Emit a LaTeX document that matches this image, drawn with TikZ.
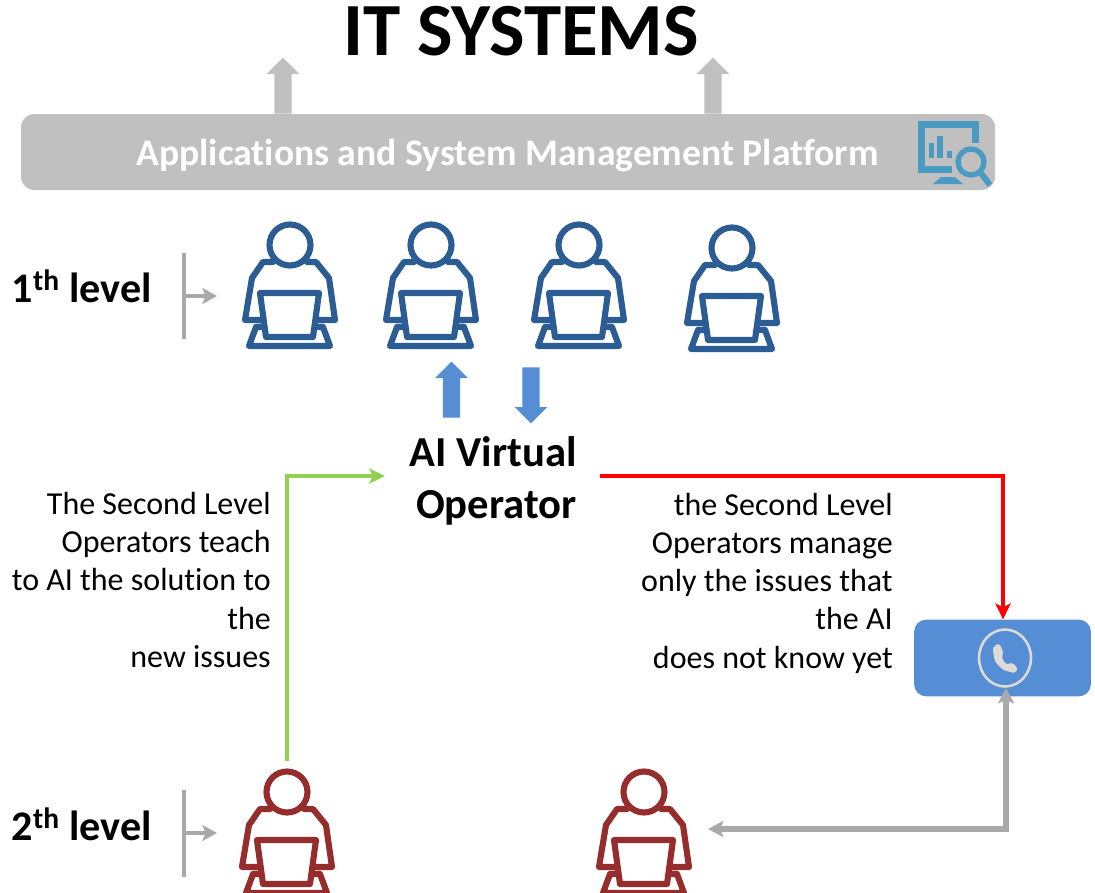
\documentclass[tikz,border=0pt]{standalone}
\usepackage{fontspec}
\setmainfont[Ligatures=NoCommon]{Carlito}
\usetikzlibrary{arrows.meta,shapes.arrows}
\definecolor{opblue}{HTML}{2B5C94}
\definecolor{opred}{HTML}{962D2D}
\definecolor{platgray}{HTML}{C0C0C0}
\definecolor{linegray}{HTML}{A9A9A9}
\definecolor{arrblue}{HTML}{558ED5}
\definecolor{iconblue}{HTML}{4A9AC4}
\definecolor{phoneic}{HTML}{DDDBD6}
\definecolor{teachgreen}{HTML}{92D050}
\newcommand{\fs}[1]{\fontsize{#1}{#1}\selectfont}
\tikzset{
  x=0.75pt,y=-0.75pt,
  operator/.pic={
    \draw[pic actions,line width=4.6pt,line join=round,line cap=round,fill=none]
      (0,0) circle[radius=20.5]
      (-17,17) -- (-27,17) -- (-38,33) -- (-45,75) -- (-29,75)
      (17,17) -- (26,17) -- (39,33) -- (45,75) -- (29,75)
      (-30,48) -- (29,48) -- (23,92) -- (-24,92) -- cycle
      (-28,82) -- (-34,82) -- (-41,101) -- (40,101) -- (33,82) -- (28,82);
  },
  blockup/.style={single arrow,draw=none,minimum height=42pt,inner sep=6.2pt,
    single arrow head extend=5.8pt,single arrow tip angle=90,shape border rotate=90},
  blockdown/.style={blockup,shape border rotate=270},
  thinarrow/.style={line width=3.6pt,-{Stealth[length=12pt,width=11.5pt,inset=3pt]}},
  grayarrow/.style={linegray,line width=3.9pt,{Stealth[length=11.5pt,width=12pt,inset=2.5pt]}-{Stealth[length=11.5pt,width=12pt,inset=2.5pt]}},
  bodytext/.style={font=\fontsize{24}{28.7}\selectfont,align=right,inner sep=0pt,text=black},
  leveltext/.style={font=\fontsize{31.6}{31.6}\selectfont\bfseries,inner sep=0pt,anchor=east},
  bracket/.style={linegray,line width=3.7pt},
  bracketarrow/.style={linegray,line width=3pt,-{Stealth[length=11pt,width=12pt,inset=2.5pt]}},
}
\begin{document}
\begin{tikzpicture}
\useasboundingbox (0,0) rectangle (1095,892);
% title
\node[font=\fs{56.3}\bfseries,inner sep=0pt] (title) at (521,31) {IT SYSTEMS};
% gray up arrows
\node[blockup,fill=platgray] (upa) at (283,90) {};
\node[blockup,fill=platgray] (upb) at (713,90) {};
% platform
\node[draw=none,fill=platgray,rounded corners=10pt,minimum width=730.5pt,minimum height=57pt,inner sep=0pt]
  (plat) at (508,152) {};
\node[font=\fs{28.2}\bfseries,text=white,inner sep=0pt] (plattext) at (507.5,155) {Applications and System Management Platform};
% monitor icon
\begin{scope}[iconblue]
  \draw[line width=4.8pt,line cap=butt] (975.5,143) -- (975.5,124.3) -- (921.3,124.3) -- (921.3,169.5) -- (952,169.5);
  \fill (929,143) rectangle (934,158);
  \fill (937,136) rectangle (943,158);
  \fill (947,151) rectangle (952,158);
  \fill (933,184) -- (941,177) -- (955,177) -- (963,184) -- cycle;
  \draw[line width=4pt] (971,162) circle[radius=13];
  \draw[line width=4.5pt] (980,172) -- (990,185);
\end{scope}
% level 1
\node[leveltext] (l1) at (152,286) {1\textsuperscript{th} level};
\coordinate (b1t) at (184,253); \coordinate (b1b) at (184,339); \coordinate (b1m) at (184,296);
\coordinate (b1e) at (217,296);
\draw[bracket] (b1t) -- (b1b);
\draw[bracketarrow] (b1m) -- (b1e);
% level 1 operators
\pic[opblue] at (290,245) {operator};
\pic[opblue] at (431,245) {operator};
\pic[opblue] at (579,245) {operator};
\pic[opblue] at (732,248) {operator};
% blue arrows
\node[blockup,fill=arrblue] (aup) at (451.5,394) {};
\node[blockdown,fill=arrblue] (adown) at (531,391) {};
% AI
\node[font=\fontsize{32}{38.5}\selectfont\bfseries,align=right,inner sep=0pt,anchor=east] (ai) at (577,481) {AI Virtual\\Operator};
% texts
\node[bodytext,anchor=east] (tl) at (271,580) {The Second Level\\Operators teach\\to AI the solution to\\the\\new issues};
\node[bodytext,anchor=east] (tr) at (893,583) {the Second Level\\Operators manage\\only the issues that\\the AI\\does not know yet};
% phone
\node[fill=arrblue,rounded corners=9pt,minimum width=132.5pt,minimum height=57.5pt,inner sep=0pt] (phone) at (1002.5,658) {};
\draw[phoneic,line width=1.9pt] (1005,658) circle[x radius=26,y radius=28.5];
\fill[phoneic,rounded corners=2pt] (992.7,650) -- (995,661.7) -- (1003,670) -- (1015,673.3) -- (1018,668.3) -- (1011.7,662.3) -- (1006.7,665) -- (1001.7,658.3) -- (1003.3,651.7) -- (999.3,643.3) -- (994,646) -- cycle;
% level 2
\node[leveltext] (l2) at (152,824) {2\textsuperscript{th} level};
\coordinate (b2t) at (184,790); \coordinate (b2b) at (184,877); \coordinate (b2m) at (184,833);
\coordinate (b2e) at (217,833);
\draw[bracket] (b2t) -- (b2b);
\draw[bracketarrow] (b2m) -- (b2e);
% level 2 operators
\pic[opred] at (287,792) {operator};
\pic[opred] at (644,792) {operator};
\coordinate (r1) at (287,761);
\coordinate (r2) at (708,829);
\coordinate (ph) at (1006,688);
% connectors
\draw[teachgreen,thinarrow] (r1) |- (385,476);
\draw[red,thinarrow] (600,476) -| (phone.north -| 1003,0);
\draw[grayarrow] (ph) |- (r2);
\end{tikzpicture}
\end{document}
